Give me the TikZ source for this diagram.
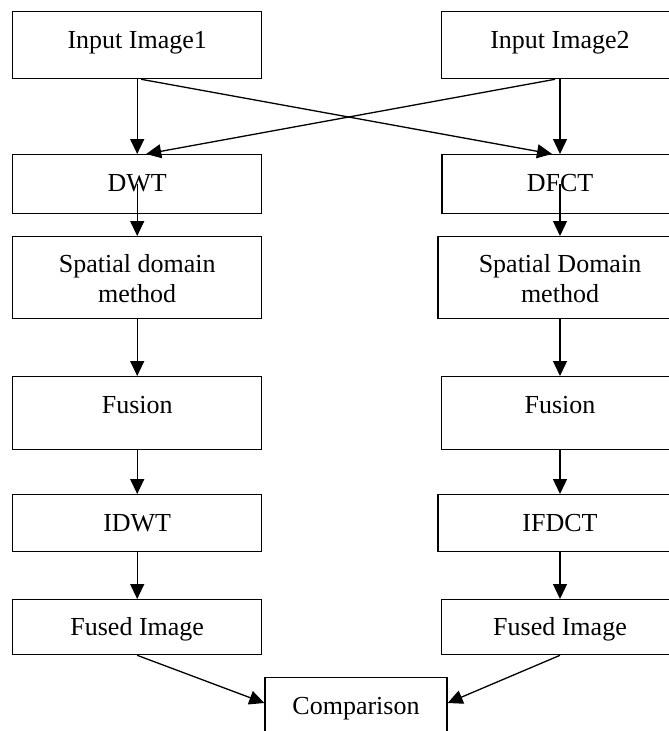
\documentclass[tikz,border=0pt]{standalone}
\usepackage{fontspec}
\setmainfont{Liberation Serif}
\usetikzlibrary{arrows.meta,calc}
\begin{document}
\begin{tikzpicture}[x=1pt,y=-1pt,
  box/.style={draw, line width=1.3pt, inner sep=0pt, anchor=north},
  lbl/.style={anchor=base, inner sep=0pt, font=\fontsize{26}{30}\selectfont},
  arr/.style={line width=1.3pt, -{Triangle[length=15pt,width=14pt]}}]
\useasboundingbox (0,0) rectangle (669,731);
\clip (0,0) rectangle (669,731);
% ---- left column
\node[box, minimum width=249pt, minimum height=67pt] (in1) at (137.2,11) {};
\node[box, minimum width=249pt, minimum height=59pt] (dwt) at (137.2,154) {};
\node[box, minimum width=249pt, minimum height=82pt] (sp1) at (137.2,236) {};
\node[box, minimum width=249pt, minimum height=73pt] (fu1) at (137.2,376) {};
\node[box, minimum width=249pt, minimum height=57pt] (idwt) at (137.2,494) {};
\node[box, minimum width=249pt, minimum height=55pt] (fd1) at (137.2,599) {};
% ---- right column
\node[box, minimum width=236.6pt, minimum height=67pt] (in2) at (560,11) {};
\node[box, minimum width=236pt, minimum height=59pt] (dfct) at (560,154) {};
\node[box, minimum width=244pt, minimum height=82pt] (sp2) at (560,236) {};
\node[box, minimum width=236.6pt, minimum height=73pt] (fu2) at (560,376) {};
\node[box, minimum width=244pt, minimum height=57pt] (ifdct) at (560,494) {};
\node[box, minimum width=237pt, minimum height=55pt] (fd2) at (560,599) {};
% ---- comparison
\node[box, minimum width=182pt, minimum height=70pt] (cmp) at (356,677) {};
% ---- labels
\node[lbl] (in1t) at ($(in1.north)+(0,37)$) {Input Image1};
\node[lbl] (dwtt) at ($(dwt.north)+(0,37)$) {DWT};
\node[lbl] (sp1t) at ($(sp1.north)+(0,36)$) {\begin{tabular}[t]{@{}c@{}}Spatial domain\\method\end{tabular}};
\node[lbl] (fu1t) at ($(fu1.north)+(0,37)$) {Fusion};
\node[lbl] (idwtt) at ($(idwt.north)+(0,37)$) {IDWT};
\node[lbl] (fd1t) at ($(fd1.north)+(0,36)$) {Fused Image};
\node[lbl] (in2t) at ($(in2.north)+(0,37)$) {Input Image2};
\node[lbl] (dfctt) at ($(dfct.north)+(0,37)$) {DFCT};
\node[lbl] (sp2t) at ($(sp2.north)+(0,36)$) {\begin{tabular}[t]{@{}c@{}}Spatial Domain\\method\end{tabular}};
\node[lbl] (fu2t) at ($(fu2.north)+(0,37)$) {Fusion};
\node[lbl] (ifdctt) at ($(ifdct.north)+(0,37)$) {IFDCT};
\node[lbl] (fd2t) at ($(fd2.north)+(0,36)$) {Fused Image};
\node[lbl] (cmpt) at ($(cmp.north)+(0,37)$) {Comparison};
% ---- connectors
\draw[arr] (in1.south) -- (dwt.north);
\draw[arr] (in2.south) -- (dfct.north);
\draw[arr] ([xshift=4pt]in1.south) -- ([xshift=-8pt]dfct.north);
\draw[arr] ([xshift=-5pt]in2.south) -- ([xshift=9pt]dwt.north);
\draw[arr] (dwt.center) -- (sp1.north);
\draw[arr] (dfct.center) -- (sp2.north);
\draw[arr] (sp1.south) -- (fu1.north);
\draw[arr] (sp2.south) -- (fu2.north);
\draw[arr] (fu1.south) -- (idwt.north);
\draw[arr] (fu2.south) -- (ifdct.north);
\draw[arr] (idwt.south) -- (fd1.north);
\draw[arr] (ifdct.south) -- (fd2.north);
\draw[arr] (fd1.south) -- ([yshift=-26pt]cmp.north west);
\draw[arr] (fd2.south) -- ([yshift=-26pt]cmp.north east);
\end{tikzpicture}
\end{document}
